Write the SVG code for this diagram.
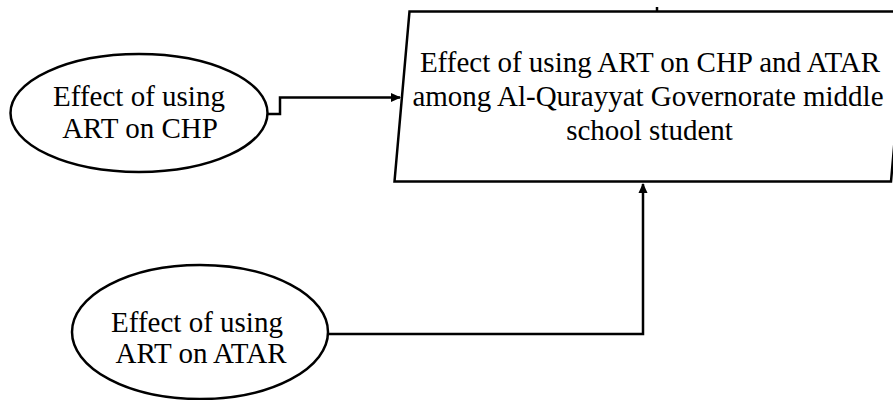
<svg xmlns="http://www.w3.org/2000/svg" width="893" height="400" viewBox="0 0 893 400">
<style>
.shape{fill:#fff;stroke:#000;stroke-width:2.5}
.conn{fill:none;stroke:#000;stroke-width:2.5}
text{font-family:"Liberation Serif","Times New Roman",serif;font-size:29px;fill:#000;text-anchor:middle}
</style>
<defs>
<marker id="arr" markerWidth="10" markerHeight="10" refX="9" refY="5" orient="auto" markerUnits="userSpaceOnUse">
<path d="M0,0.5 L10,5 L0,9.5 Z" fill="#000"/>
</marker>
</defs>
<rect width="893" height="400" fill="#fff"/>
<g id="connectors">
<path class="conn" d="M268,114 H280 V97.5 H400" marker-end="url(#arr)"/>
<path class="conn" d="M328,334 H643 V184" marker-end="url(#arr)"/>
<line class="conn" x1="657" y1="7" x2="657" y2="12"/>
</g>
<g id="node-main">
<polygon class="shape" points="409.5,11.5 906,11.5 891,181.5 394.5,181.5"/>
<text x="650" y="72">Effect of using ART on CHP and ATAR</text>
<text x="648" y="106">among Al-Qurayyat Governorate middle</text>
<text x="649.5" y="140">school student</text>
</g>
<g id="node-chp">
<ellipse class="shape" cx="139" cy="113" rx="128.5" ry="59"/>
<text x="139" y="106">Effect of using</text>
<text x="140" y="138">ART on CHP</text>
</g>
<g id="node-atar">
<ellipse class="shape" cx="200" cy="332" rx="128" ry="67"/>
<text x="197" y="332">Effect of using</text>
<text x="201" y="363">ART on ATAR</text>
</g>
</svg>
